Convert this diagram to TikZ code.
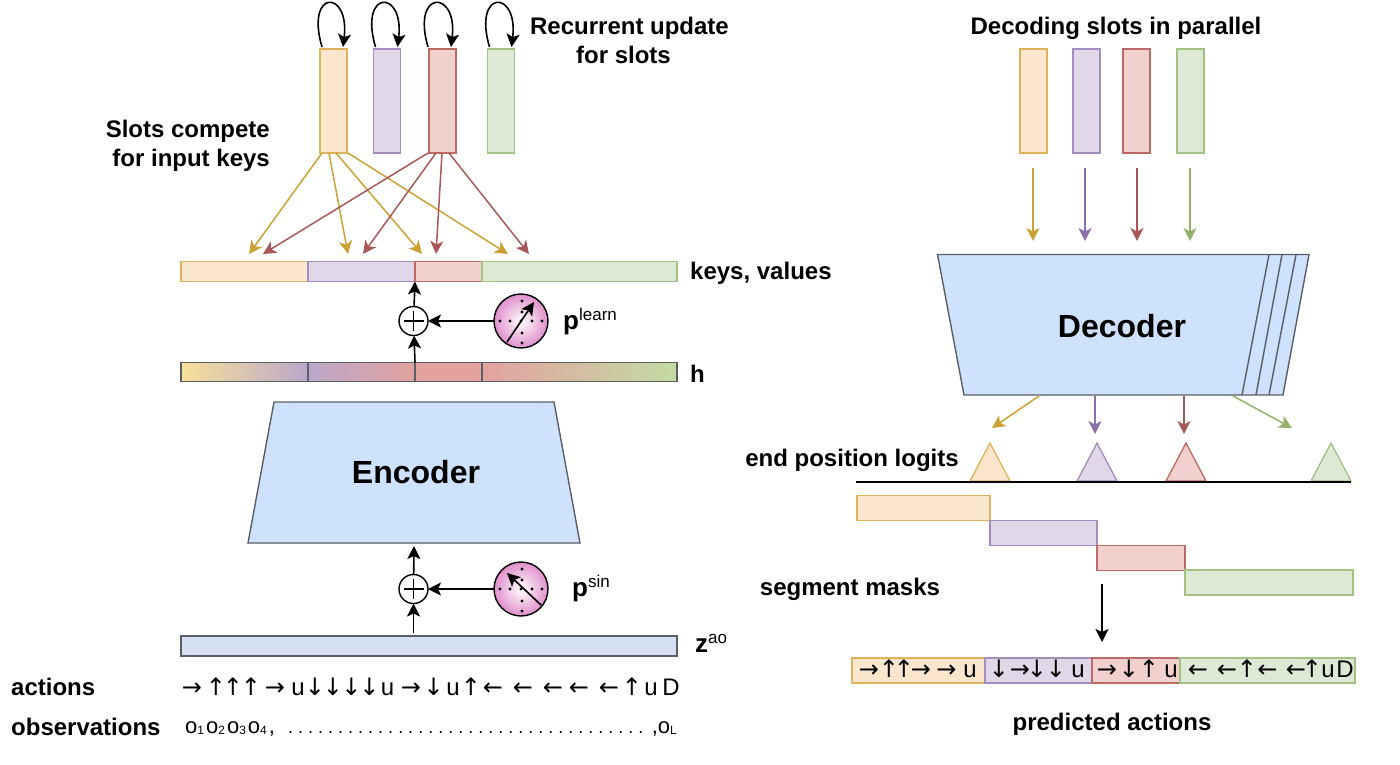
\documentclass[tikz,border=0pt]{standalone}
\usepackage{fontspec}
\setmainfont{Liberation Sans}
\newfontfamily\arrowfont{DejaVu Sans}
\usetikzlibrary{arrows.meta}

\definecolor{yelfill}{HTML}{F9E6CC}
\definecolor{yelline}{HTML}{DDB35B}
\definecolor{yeltip}{HTML}{CBA235}
\definecolor{purfill}{HTML}{E0D7E8}
\definecolor{purline}{HTML}{A48DBC}
\definecolor{purtip}{HTML}{8A70AA}
\definecolor{redfill}{HTML}{F1D0CE}
\definecolor{redline}{HTML}{BC6A66}
\definecolor{redtip}{HTML}{A85858}
\definecolor{grefill}{HTML}{DCE9D5}
\definecolor{greline}{HTML}{A3C183}
\definecolor{gretip}{HTML}{94B26E}
\definecolor{netfill}{HTML}{CEE1FD}
\definecolor{netline}{HTML}{5A5F66}
\definecolor{zfill}{HTML}{D5E0F3}
\definecolor{hyel}{HTML}{F6E19B}
\definecolor{hpur}{HTML}{BBA7C9}
\definecolor{hred}{HTML}{E3A2A0}
\definecolor{hgre}{HTML}{C3DBA3}
\definecolor{spherepink}{HTML}{E08FCB}

\newcommand{\fs}[1]{\fontsize{#1}{#1}\selectfont}
\newcommand{\suplabel}[3]{{\fs{26}\bfseries #1}\raisebox{#3}{\fs{17}#2}}
\newcommand{\obs}[1]{o\raisebox{-1pt}{\fs{12}#1}\kern2pt}
\newcommand{\arR}{{\arrowfont →}}
\newcommand{\arL}{{\arrowfont ←}}
\newcommand{\arU}{{\arrowfont ↑}}
\newcommand{\arD}{{\arrowfont ↓}}

\tikzset{
  yelbox/.style={fill=yelfill,draw=yelline},
  purbox/.style={fill=purfill,draw=purline},
  redbox/.style={fill=redfill,draw=redline},
  grebox/.style={fill=grefill,draw=greline},
  barnode/.style={rectangle,inner sep=0pt,outer sep=0pt,line width=1.3pt},
  yelarrow/.style={draw=yeltip,line width=1.5pt,-{Stealth[length=13pt,width=13pt,inset=3.5pt]}},
  purarrow/.style={draw=purtip,line width=1.5pt,-{Stealth[length=13pt,width=13pt,inset=3.5pt]}},
  redarrow/.style={draw=redtip,line width=1.5pt,-{Stealth[length=13pt,width=13pt,inset=3.5pt]}},
  grearrow/.style={draw=gretip,line width=1.5pt,-{Stealth[length=13pt,width=13pt,inset=3.5pt]}},
  blackarrow/.style={draw=black,line width=1.6pt,-{Stealth[length=13pt,width=13pt,inset=3pt]}},
  title/.style={font=\fs{24}\bfseries,align=center,inner sep=0pt},
  seqsym/.style={font=\fs{24},inner sep=0pt,anchor=base},
  netshape/.style={fill=netfill,draw=netline,line width=1.4pt},
}

\begin{document}
\begin{tikzpicture}[x=1pt,y=-1pt]
\useasboundingbox (0,0) rectangle (1400,764);

% slots on the left
\foreach \nm/\col/\cx in {A/yel/333.5,B/pur/387,C/red/442.5,D/gre/501}
  \node[barnode,\col box,minimum width=27pt,minimum height=104pt] (slot\nm) at (\cx,101) {};
\foreach \nm/\sx/\ex in {A/2/23,B/2/24,C/-1/22,D/2/24}
  \draw[blackarrow] ([xshift=\sx pt,yshift=2pt]slot\nm.north west) .. controls +(-17,-58) and +(7,-58) .. ([xshift=\ex pt,yshift=2pt]slot\nm.north west);

% keys and values
\foreach \nm/\col/\xa/\xb in {A/yel/181/308,B/pur/308/415,C/red/415/482,D/gre/482/677}
  \node[barnode,\col box,minimum width={(\xb-\xa)*1pt},minimum height=20pt] (key\nm) at ({(\xa+\xb)/2},271.5) {};

\foreach \nm/\sx/\tx in {a/2/249,b/9/348,c/16/422,d/28/508}{
  \coordinate (tipY\nm) at (\tx,254);
  \draw[yelarrow] ([xshift=\sx pt]slotA.south west) -- (tipY\nm);
}
\foreach \nm/\sx/\tx in {a/-1/263,b/7/363,c/13/436,d/20/529}{
  \coordinate (tipR\nm) at (\tx,254);
  \draw[redarrow] ([xshift=\sx pt]slotC.south west) -- (tipR\nm);
}

% h row with blended colours
\foreach \nm/\cl/\cr/\xa/\xb in {A/hyel/hpur/181/308,B/hpur/hred/308/415,C/hred/hred/415/482,D/hred/hgre/482/677}
  \node[barnode,draw=netline,left color=\cl,right color=\cr,minimum width={(\xb-\xa)*1pt},minimum height=19pt] (h\nm) at ({(\xa+\xb)/2},372) {};

% adders and position spheres
\foreach \nm/\cy in {learn/321,sin/589}{
  \node[circle,draw=black,fill=white,line width=1.4pt,minimum size=29pt,inner sep=0pt,outer sep=0pt] (plus\nm) at (413.5,\cy) {};
  \draw[line width=1.2pt] ([xshift=-10pt]plus\nm.center) -- ([xshift=10pt]plus\nm.center);
  \draw[line width=1.2pt] ([yshift=-10pt]plus\nm.center) -- ([yshift=10pt]plus\nm.center);
  \node[circle,draw=black,line width=1.4pt,inner color=white,outer color=spherepink,minimum size=54pt,inner sep=0pt,outer sep=0pt] (sphere\nm) at (521,\cy) {};
  \begin{scope}[shift={(521,\cy)}]
  \foreach \dx in {-21,-11,0,11,21}
    \fill (\dx,0) circle (1.7pt);
  \foreach \dy in {-20,-9,12,22}
    \fill (1,\dy) circle (1.7pt);
  \end{scope}
  \draw[blackarrow] (sphere\nm) -- (plus\nm);
}
\coordinate (arrLa) at (507,342);
\coordinate (arrLb) at (534,302);
\coordinate (arrSa) at (541,605);
\coordinate (arrSb) at (507,573);
\draw[blackarrow] (arrLa) -- (arrLb);
\draw[blackarrow] (arrSa) -- (arrSb);
\draw[blackarrow] (pluslearn) -- (keyC.south west);
\draw[blackarrow] (hC.north west) -- (pluslearn);

% encoder
\coordinate (encTL) at (274,402);
\coordinate (encTR) at (554,402);
\coordinate (encBR) at (580,543);
\coordinate (encBL) at (248,543);
\draw[netshape] (encTL) -- (encTR) -- (encBR) -- (encBL) -- cycle;
\node[font=\fs{32}\bfseries,inner sep=0pt] (encoder) at (416,472) {Encoder};

\node[barnode,fill=zfill,draw=netline,minimum width=496pt,minimum height=20pt] (zao) at (429,646) {};
\coordinate (encIn) at (414,546);
\coordinate (zaoOut) at (413.5,633);
\draw[blackarrow] (plussin) -- (encIn);
\draw[blackarrow] (zaoOut) -- (plussin);

% left labels
\node[title] (recurrent) at (629.5,28) {Recurrent update};
\node[title] (forslots) at (623.5,55) {for slots};
\node[title,align=right,anchor=east] (compete) at (270,146) {Slots compete\\[5pt]for input keys};
\node[title,anchor=west] (keylabel) at (690,273) {keys, values};
\node[title,anchor=west] (hlabel) at (690,374) {h};
\node[inner sep=0pt,anchor=base west] (plearn) at (563,329) {\suplabel{p}{learn}{9pt}};
\node[inner sep=0pt,anchor=base west] (psin) at (572,596) {\suplabel{p}{sin}{9pt}};
\node[inner sep=0pt,anchor=base west] (zlabel) at (695,652) {\suplabel{z}{ao}{9pt}};
\node[title,anchor=west] (actlabel) at (11,687) {actions};
\node[title,anchor=west] (obslabel) at (11,727) {observations};

% action and observation sequences
\foreach \sym/\px [count=\i] in {\arR/192,\arU/216,\arU/233,\arU/251,\arR/275,u/298,\arD/315,\arD/333,\arD/351.5,\arD/369.5,u/387.6,\arR/411,\arD/433.6,u/453,\arU/471,\arL/493,\arL/523,\arL/553,\arL/579,\arL/609,\arU/632,u/651,D/671}
  \node[seqsym] (act\i) at (\px,695) {\sym};
\node[font=\fs{22},inner sep=0pt,anchor=base west] (obsfirst) at (185,733) {\obs{1}\obs{2}\obs{3}\obs{4},};
\node[font=\fs{18},inner sep=0pt,anchor=base west] (obsdots) at (288,733) {\frenchspacing . . . . . . . . . . . . . . . . . . . . . . . . . . . . . . . . . . . .};
\node[font=\fs{22},inner sep=0pt,anchor=base east] (obslast) at (677,733) {,o\raisebox{-1pt}{\fs{12}L}};

% slots on the right, decoded in parallel
\foreach \nm/\col/\cx/\ax in {A/yel/1033.5/1033,B/pur/1086.5/1085,C/red/1136.5/1137,D/gre/1190.5/1190}{
  \node[barnode,\col box,minimum width=27pt,minimum height=104pt] (dec\nm) at (\cx,101) {};
  \coordinate (decFrom\nm) at (\ax,168);
  \coordinate (decTo\nm) at (\ax,241);
  \draw[\col arrow] (decFrom\nm) -- (decTo\nm);
}
\node[title] (parallel) at (1116,28) {Decoding slots in parallel};

% decoder, with the repeated edges on its right side
\coordinate (decTL) at (937.5,254.5);
\coordinate (decTR) at (1309,254.5);
\coordinate (decBR) at (1283,395);
\coordinate (decBL) at (964,395);
\draw[netshape] (decTL) -- (decTR) -- (decBR) -- (decBL) -- cycle;
\foreach \xt/\xb in {1269/1242,1282/1256,1296/1269}
  \draw[draw=netline,line width=1.4pt] (\xt,254.5) -- (\xb,395);
\node[font=\fs{32}\bfseries,inner sep=0pt] (decoder) at (1122,326) {Decoder};

\foreach \nm/\col/\fx/\tx/\ty in {A/yel/1039/992/428,B/pur/1095/1095/434,C/red/1184/1184/434,D/gre/1233/1292/428}{
  \coordinate (logitFrom\nm) at (\fx,396);
  \coordinate (logitTo\nm) at (\tx,\ty);
  \draw[\col arrow] (logitFrom\nm) -- (logitTo\nm);
}

% end position logits
\foreach \col/\cx in {yel/990,pur/1097,red/1186,gre/1331}
  \draw[\col box,line width=1.3pt] (\cx-20,481) -- (\cx,443) -- (\cx+20,481) -- cycle;
\coordinate (axisL) at (856,482);
\coordinate (axisR) at (1351,482);
\draw[line width=2.8pt] (axisL) -- (axisR);
\node[title,anchor=center] (logits) at (852,460) {end position logits};

% segment masks
\foreach \nm/\col/\xa/\xb/\cy in {A/yel/857/990/508,B/pur/990/1097/533,C/red/1097/1185/558,D/gre/1185/1353/582.5}
  \node[barnode,\col box,minimum width={(\xb-\xa)*1pt},minimum height=25pt] (mask\nm) at ({(\xa+\xb)/2},\cy) {};
\node[title] (masks) at (850,589) {segment masks};

\coordinate (maskOut) at (1102,584);
\coordinate (predIn) at (1102,642);
\draw[blackarrow] (maskOut) -- (predIn);

% predicted actions
\foreach \nm/\col/\xa/\xb in {A/yel/852/985,B/pur/985/1092,C/red/1092/1180,D/gre/1180/1355}
  \node[barnode,\col box,minimum width={(\xb-\xa)*1pt},minimum height=25pt] (pred\nm) at ({(\xa+\xb)/2},670.5) {};
\foreach \sym/\px [count=\i] in {\arR/869,\arU/889,\arU/904,\arR/921,\arR/946.5,u/970,\arD/999,\arR/1020,\arD/1037,\arD/1056,u/1078,\arR/1107,\arD/1129,\arU/1149,u/1171,\arL/1198,\arL/1227,\arU/1247,\arL/1267.5,\arL/1296,\arU/1312,u/1328,D/1345}
  \node[seqsym] (predsym\i) at (\px,677) {\sym};
\node[title] (predicted) at (1112,724) {predicted actions};
\end{tikzpicture}
\end{document}
